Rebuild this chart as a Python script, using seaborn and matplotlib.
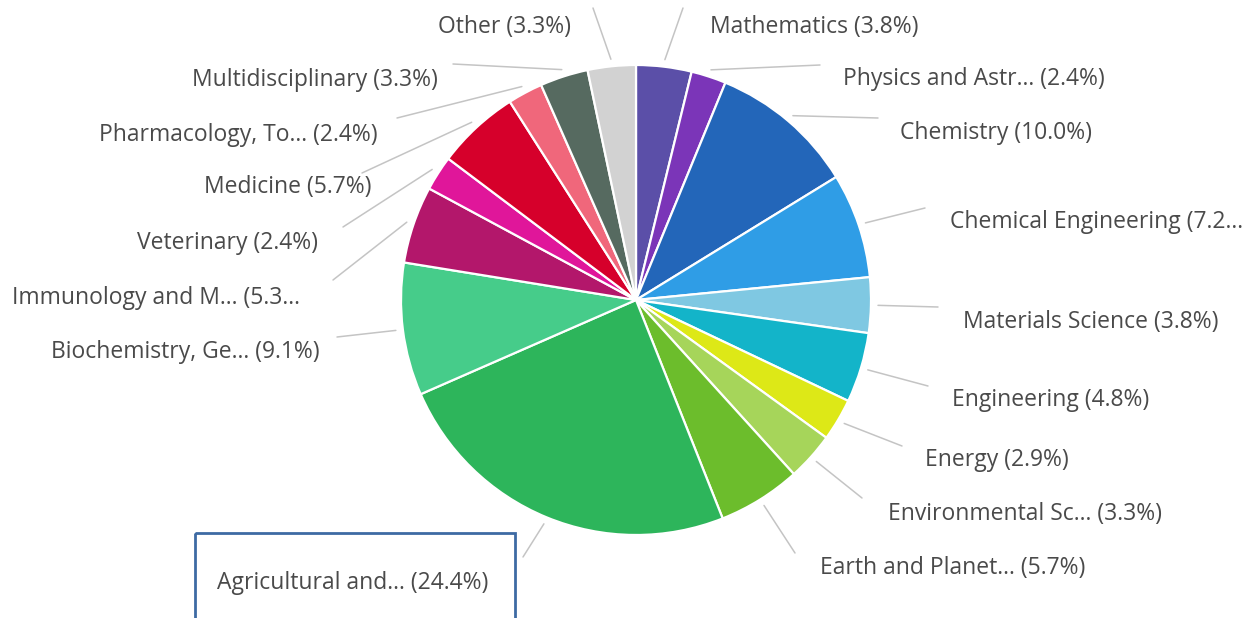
import matplotlib
matplotlib.use("Agg")
import matplotlib.pyplot as plt
import seaborn as sns
import numpy as np
from matplotlib.patches import Rectangle

# data, clockwise from the top
labels = [
    "Mathematics (3.8%)",
    "Physics and Astr... (2.4%)",
    "Chemistry (10.0%)",
    "Chemical Engineering (7.2...",
    "Materials Science (3.8%)",
    "Engineering (4.8%)",
    "Energy (2.9%)",
    "Environmental Sc... (3.3%)",
    "Earth and Planet... (5.7%)",
    "Agricultural and... (24.4%)",
    "Biochemistry, Ge... (9.1%)",
    "Immunology and M... (5.3...",
    "Veterinary (2.4%)",
    "Medicine (5.7%)",
    "Pharmacology, To... (2.4%)",
    "Multidisciplinary (3.3%)",
    "Other (3.3%)",
]
shares = [3.8, 2.4, 10.0, 7.2, 3.8, 4.8, 2.9, 3.3, 5.7, 24.4, 9.1, 5.3, 2.4, 5.7, 2.4, 3.3, 3.3]
colors = [
    "#5b4fa8", "#7b35b8", "#2366b9", "#2f9de6", "#7fc8e2", "#13b4c9",
    "#dde817", "#a6d55a", "#6cbd2c", "#2db55b", "#46cc8a", "#b3176b",
    "#e0169a", "#d6002b", "#f0677b", "#566a60", "#d2d2d2",
]

# label layout in pixels: text x, text y, alignment, leader end x, leader end y
layout = [
    (710, 27, "left", 683, 8),
    (843, 79, "left", 820, 65),
    (900, 133, "left", 878, 118),
    (950, 222, "left", 925, 208),
    (963, 322, "left", 938, 307),
    (952, 400, "left", 928, 386),
    (925, 460, "left", 902, 446),
    (888, 514, "left", 862, 498),
    (820, 568, "left", 795, 553),
    (217, 583, "left", 523, 557),
    (320, 352, "right", 337, 337),
    (300, 298, "right", 333, 280),
    (318, 243, "right", 343, 227),
    (372, 187, "right", 362, 173),
    (378, 135, "right", 397, 118),
    (438, 80, "right", 453, 64),
    (571, 27, "right", 593, 8),
]

sns.set_theme(style="white")
plt.rcParams["font.family"] = ["Open Sans", "DejaVu Sans"]

W, H = 1252, 618
fig = plt.figure(figsize=(W / 100, H / 100), dpi=100)
ax = fig.add_axes([0, 0, 1, 1])

cx, cy, R = 636, 300, 235
wedges, _ = ax.pie(
    shares, colors=colors, startangle=-90, counterclock=True,
    center=(cx, cy), radius=R,
    wedgeprops=dict(edgecolor="white", linewidth=1.6),
)
ax.set_aspect("auto")
ax.set_xlim(0, W)
ax.set_ylim(H, 0)
ax.axis("off")

for w, lab, (tx, ty, ha, ex, ey) in zip(wedges, labels, layout):
    mid = np.deg2rad((w.theta1 + w.theta2) / 2)
    sx = cx + R * 1.03 * np.cos(mid)
    sy = cy + R * 1.03 * np.sin(mid)
    ax.plot([sx, ex], [sy, ey], color="#c4c4c4", lw=1.1, solid_capstyle="round")
    ax.text(tx, ty, lab, ha=ha, va="center", fontsize=16.5, color="#4a4a4a")

ax.add_patch(Rectangle((195, 533), 320, 100, fill=False, edgecolor="#3d6aa3", lw=2, clip_on=True))

fig.savefig("out.png", dpi=100)
